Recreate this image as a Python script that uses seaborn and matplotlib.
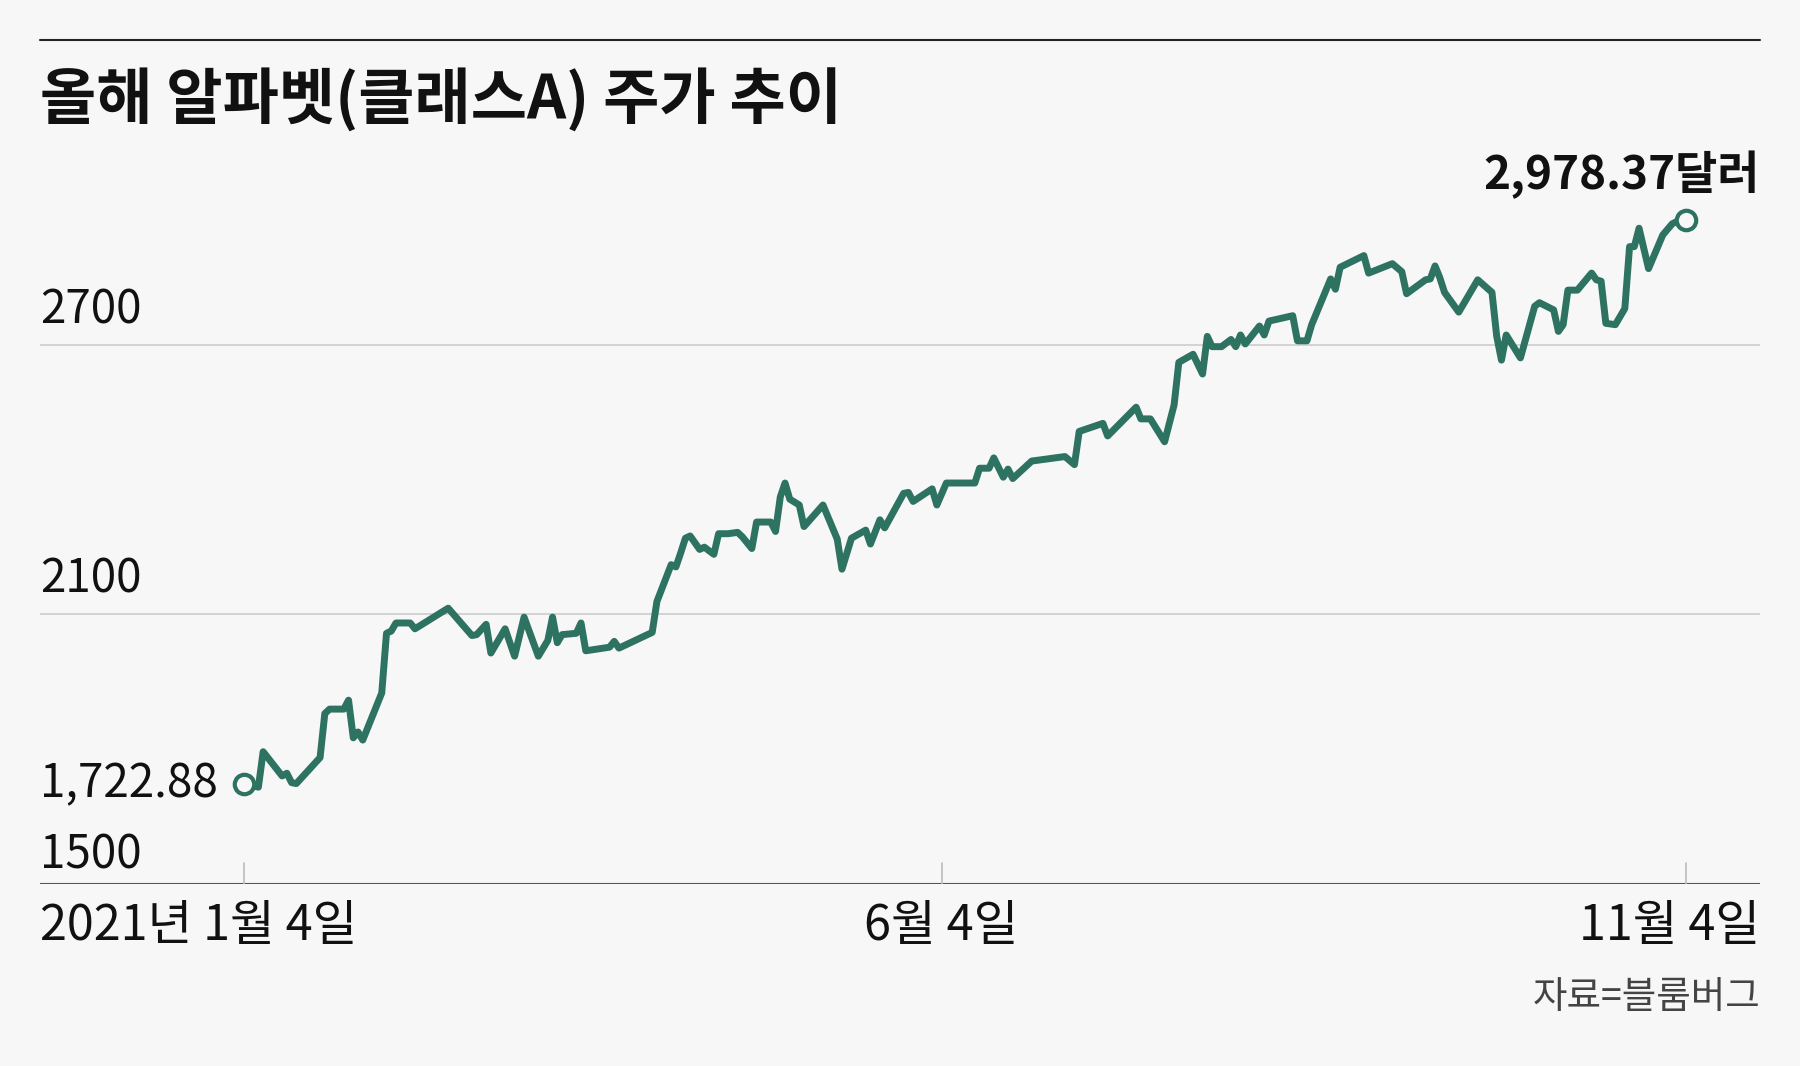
import matplotlib
matplotlib.use("Agg")
import matplotlib.pyplot as plt
import seaborn as sns
import pandas as pd

days = [0,3,4,8,9,10,11,16,17,18,21,22,23,24,25,29,30,31,32,35,36,43,48,49,51,52,55,57,59,62,64,65,66,67,70,71,72,77,78,79,86,87,90,91,92,93,94,96,97,99,100,102,104,105,107,108,110,111,112,113,114,115,117,118,122,125,126,128,131,132,134,135,139,140,141,145,146,148,154,155,157,158,160,161,162,166,173,175,176,181,182,188,189,191,194,196,197,200,202,203,204,206,208,209,210,211,214,215,216,221,222,224,225,229,230,231,236,237,242,244,245,249,250,251,252,253,256,260,263,264,265,266,269,272,273,276,277,278,279,281,284,285,286,287,289,291,292,293,294,296,299,301,302,304]
prices = [1722.88,1715,1794,1740,1746,1725,1723,1781,1879,1889,1889,1909,1825,1838,1820,1925,2058,2063,2081,2081,2068,2114,2053,2055,2078,2014,2068,2007,2094,2007,2042,2094,2037,2055,2058,2081,2019,2027,2040,2025,2060,2129,2211,2206,2237,2270,2275,2245,2250,2234,2280,2280,2283,2273,2247,2306,2306,2306,2285,2362,2393,2357,2344,2296,2344,2268,2201,2270,2288,2257,2311,2293,2370,2372,2352,2380,2344,2393,2393,2426,2426,2449,2406,2424,2403,2442,2452,2434,2508,2526,2498,2562,2536,2536,2485,2567,2662,2680,2636,2720,2697,2697,2713,2697,2723,2703,2743,2723,2754,2766,2710,2710,2746,2848,2825,2874,2900,2861,2882,2864,2815,2846,2848,2877,2851,2818,2774,2846,2818,2720,2667,2723,2672,2787,2795,2779,2731,2746,2823,2823,2861,2846,2843,2749,2746,2782,2920,2920,2961,2871,2946,2971,2976,2978.37]
tick_days = [0, 147, 304]
tick_labels = ["2021년 1월 4일", "6월 4일", "11월 4일"]
y_grid = [2100, 2700]
y_labels = ["2100", "2700"]

sns.set_style("white")
plt.rcParams['font.family'] = ['Noto Sans CJK KR', 'DejaVu Sans']
BG = "#f7f7f7"
C = "#2e7261"

fig = plt.figure(figsize=(18, 10.66), dpi=100, facecolor=BG)
ax = fig.add_axes([0.0223, 0.1711, 0.9555, 0.6674], facecolor=BG)
df = pd.DataFrame({"day": days, "price": prices})
x0, x1 = -43, 319.5
ax.set_xlim(x0, x1)
ax.set_ylim(1500, 3086)
for g in y_grid:
    ax.axhline(g, color="#cccccc", lw=1.2, zorder=0)
ax.axhline(1500, color="#555555", lw=1.5, zorder=1)
sns.lineplot(data=df, x="day", y="price", ax=ax, color=C, lw=5, zorder=3)
for i in (0, -1):
    ax.plot(days[i], prices[i], 'o', ms=14, mfc=BG, mec=C, mew=3, zorder=4)
for s in ax.spines.values():
    s.set_visible(False)
ax.set_xticks([]); ax.set_yticks([])
ax.set_xlabel(""); ax.set_ylabel("")
for d in tick_days:
    ax.plot([d, d], [1500, 1545], color="#bbbbbb", lw=1.2, zorder=1)
for g, l in zip(y_grid, y_labels):
    ax.text(0, g + 25, l, transform=ax.get_yaxis_transform(), fontsize=33, ha="left", va="bottom", color="#111111")
ax.text(0, 1510, "1500", transform=ax.get_yaxis_transform(), fontsize=33, ha="left", va="bottom", color="#111111")
ax.text(0, prices[0], "1,722.88", transform=ax.get_yaxis_transform(), fontsize=33, ha="left", va="center", color="#111111")
ax.text(1, 3080, "2,978.37달러", transform=ax.get_yaxis_transform(), fontsize=33, ha="right", va="center", color="#111111", fontweight="bold")
for d, l, ha in zip(tick_days, tick_labels, ["left", "center", "right"]):
    xx = x0 if ha == "left" else (x1 if ha == "right" else d)
    ax.text(xx, 1460, l, fontsize=35, ha=ha, va="top", color="#111111")
ax.text(x1, 1290, "자료=블룸버그", fontsize=27, ha="right", va="top", color="#444444")

fig.add_artist(plt.Line2D([0.0223, 0.978], [1 - 35/929, 1 - 35/929], color="#222222", lw=1.5))
fig.text(0.0223, 1 - 88/929, "올해 알파벳(클래스A) 주가 추이", fontsize=44, fontweight="bold", ha="left", va="center", color="#111111")

fig.savefig("out.png", dpi=100, facecolor=BG)
